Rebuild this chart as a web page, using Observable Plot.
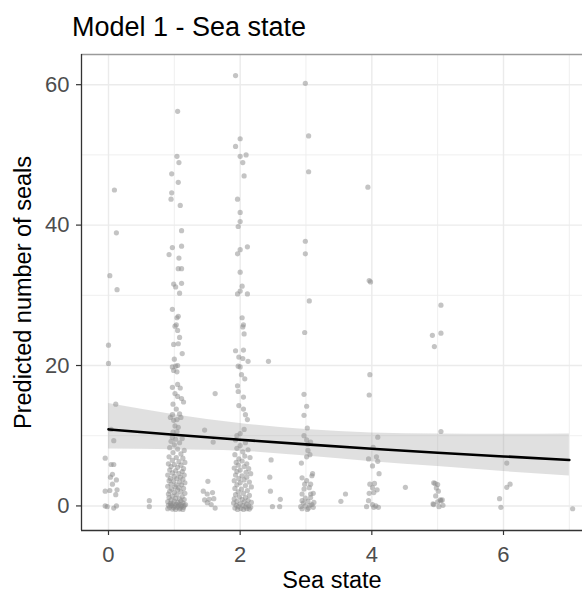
<!DOCTYPE html>
<html><head><meta charset="utf-8">
<script src="https://cdn.jsdelivr.net/npm/d3@7"></script>
<script src="https://cdn.jsdelivr.net/npm/@observablehq/plot@0.6"></script>
<style>
body{margin:0;background:#fff;font-family:"Liberation Sans",Arial,sans-serif;}
#wrap{position:relative;width:582px;height:592px;overflow:hidden;}
#chart{position:absolute;left:0;top:0;}
#title{position:absolute;left:72px;top:14px;font-size:27px;line-height:27px;color:#000;white-space:nowrap;}
</style></head><body>
<div id="wrap"><div id="chart"></div><div id="title">Model 1 - Sea state</div></div>
<script>
// Observations (sea state, jittered; predicted number of seals)
const pts0 = [[0.09,45.0],[0.12,38.9],[0.02,32.8],[0.13,30.8],[0.0,22.9],[0.0,20.3],[0.11,14.5],[0.04,10.9],[0.08,9.3],[-0.05,6.8],[0.04,5.9],[0.08,5.9],[0.03,4.1],[0.06,4.5],[0.12,3.7],[0.06,3.1],[0.13,2.3],[-0.05,2.1],[0.02,2.2],[0.11,1.6],[-0.05,0.0],[-0.02,-0.1],[0.08,-0.3],[0.12,0.0]];
const ptsOther = [[0.62,0.75],[0.62,-0.1],[1.62,16.0],[1.46,10.8],[1.59,9.1],[1.51,3.5],[1.44,2.1],[1.5,1.7],[1.58,1.9],[1.46,0.85],[1.53,0.94],[1.6,1.04],[1.5,0.47],[1.56,0.19],[1.62,-0.3],[2.43,20.6],[2.47,6.55],[2.45,4.1],[2.46,2.1],[2.49,-0.1],[2.6,-0.1],[2.61,0.94],[3.53,0.65],[3.6,1.7],[4.51,2.65],[5.94,1.04],[5.96,-0.2],[6.05,6.1],[6.05,2.65],[6.1,3.1],[7.05,-0.4]];
const pts1 = [[1.05,56.2],[1.04,49.8],[1.07,48.9],[0.96,47.3],[1.06,46.1],[0.96,44.6],[0.95,43.7],[1.09,42.8],[1.11,39.2],[0.97,36.8],[1.11,37.0],[0.92,35.8],[1.07,35.3],[1.06,33.8],[1.11,33.8],[0.99,31.6],[1.02,31.2],[1.11,31.7],[1.08,30.3],[0.97,28.0],[1.04,26.8],[1.06,27.0],[1.01,25.6],[1.03,25.8],[1.05,25.0],[1.08,24.0],[0.99,23.0],[1.06,23.1],[1.12,21.7],[1.00,20.9],[0.97,19.8],[1.02,19.9],[1.05,20.0],[0.99,19.3],[1.04,19.1],[0.97,16.9],[1.05,17.3],[1.09,16.8],[1.01,16.0],[1.05,15.6],[1.11,15.3],[0.98,14.5],[1.14,14.8],[1.03,13.8],[0.97,13.0],[1.08,13.1],[0.94,12.6],[0.99,12.2],[1.04,12.3],[1.10,12.6],[1.01,11.4],[1.06,11.2],[0.98,10.5],[1.04,10.6],[0.97,9.8],[1.02,9.5],
[0.95,9.2],[1.08,9.0],[1.12,9.6],[1.0,8.7],[0.93,8.3],[1.05,8.1],[1.15,7.9],[0.98,7.6],[1.1,7.4],[0.92,7.0],[1.03,6.9],[1.13,6.8],[0.97,6.5],[1.07,6.3],[1.16,6.2],[0.91,6.0],[1.0,5.9],[1.1,5.8],[0.95,5.6],[1.05,5.5],[1.14,5.3],[0.93,5.1],[1.02,5.0],[1.12,4.9],[0.97,4.7],[1.07,4.6],[0.9,4.4],[1.15,4.4],[1.0,4.2],[1.09,4.1],[0.94,3.9],[1.04,3.9],[1.13,3.8],[0.92,3.6],[0.99,3.5],[1.08,3.4],[1.16,3.3],[0.95,3.1],[1.03,3.0],[1.11,3.0],[0.9,2.8],[1.01,2.7],[1.07,2.6],[1.14,2.5],[0.96,2.4],[1.05,2.3],[0.93,2.1],[1.1,2.0],[1.0,1.9],[1.16,1.8],[0.91,1.7],[1.04,1.6],[0.97,1.4],[1.12,1.3],[0.92,1.2],[1.02,1.1],[1.08,1.0],[1.15,0.9],[0.95,0.85],[1.0,0.7],[1.1,0.7],[0.9,0.6],[1.05,0.5],[1.13,0.45],[0.94,0.35],[0.98,0.3],[1.07,0.25],[1.17,0.2],[0.91,0.1],[0.96,0.05],[1.01,0.0],[1.06,0.0],[1.11,-0.05],[1.15,0.05],[0.93,-0.2],[0.99,-0.25],[1.04,-0.2],[1.09,-0.3],[1.14,-0.2],[0.9,-0.4],[0.97,-0.45],[1.02,-0.5],[1.08,-0.45],[1.13,-0.5],[0.95,0.15],[1.03,0.2],[1.1,0.15]];
const pts2 = [[1.93,61.3],[2.0,52.3],[1.93,51.2],[2.0,49.8],[2.09,50.0],[2.04,48.9],[2.06,47.0],[1.96,43.7],[2.0,41.8],[2.0,40.5],[1.97,39.8],[2.0,36.5],[2.11,36.9],[1.96,35.9],[2.0,33.3],[2.03,31.3],[1.96,30.2],[2.0,30.6],[2.11,30.2],[2.03,26.8],[2.05,25.8],[2.04,25.5],[2.06,24.5],[1.93,22.1],[2.05,22.2],[1.98,21.2],[2.04,21.0],[2.12,20.6],[1.97,19.9],[2.0,19.8],[2.02,18.7],[2.07,18.1],[1.96,17.1],[1.97,16.3],[2.05,15.5],[1.98,14.3],[2.05,13.8],[2.08,13.0],[2.11,12.3],[2.06,10.9],[2.0,10.3],[1.95,10.0],
[1.93,9.4],[2.08,9.0],[2.0,8.6],[1.95,8.2],[2.12,8.0],[2.04,7.7],[1.92,7.3],[2.07,7.1],[2.15,6.9],[1.98,6.7],[2.03,6.4],[1.94,6.2],[2.1,6.0],[1.97,5.8],[2.06,5.6],[1.91,5.4],[2.13,5.3],[2.0,5.1],[1.95,4.9],[2.09,4.8],[2.16,4.6],[1.93,4.4],[2.03,4.3],[2.1,4.1],[1.98,3.9],[2.06,3.7],[1.91,3.6],[2.14,3.4],[2.0,3.3],[1.95,3.0],[2.08,2.9],[2.17,2.7],[1.92,2.5],[2.02,2.4],[2.11,2.2],[1.97,2.0],[2.05,1.8],[1.93,1.6],[2.14,1.5],[1.99,1.3],[2.08,1.2],[1.91,1.0],[2.03,0.9],[2.12,0.8],[1.95,0.65],[2.06,0.55],[2.17,0.5],[1.9,0.4],[2.0,0.3],[2.1,0.25],[1.94,0.1],[2.04,0.05],[2.13,0.0],[1.97,-0.1],[2.08,-0.15],[2.16,-0.2],[1.92,-0.3],[2.01,-0.35],[2.1,-0.4],[1.96,-0.5],[2.05,-0.5],[2.14,-0.45]];
const pts3 = [[2.99,60.2],[3.04,52.7],[3.04,47.6],[2.99,37.7],[2.99,35.9],[3.05,29.2],[2.98,24.7],[2.97,15.9],[3.01,14.2],[2.97,12.9],[3.02,11.1],[2.97,10.0],[3.01,9.4],[3.07,9.1],[3.03,8.8],[3.03,7.9],[3.06,7.3],[3.01,7.0],[2.93,6.1],[2.94,4.0],[3.01,3.6],[3.09,4.3],[3.07,3.1],[2.98,3.1],[3.1,4.6],[2.97,2.4],[3.05,2.6],[3.11,1.8],[2.94,1.7],[3.07,1.7],[2.99,1.1],[3.07,1.2],[2.94,0.75],[3.03,0.65],[2.92,-0.1],[2.99,0.0],[3.06,0.1],[3.11,-0.2],[2.94,-0.4],[3.02,-0.5],[3.09,0.2],[2.96,0.4],[3.04,-0.3],[3.12,0.5]];
const pts4 = [[3.94,45.4],[3.96,32.1],[3.98,31.9],[3.97,18.7],[3.96,15.8],[4.09,9.8],[4.02,8.35],[3.95,6.7],[4.07,7.0],[4.09,6.35],[4.01,5.7],[4.11,4.6],[3.97,3.1],[4.04,3.2],[4.01,2.6],[4.08,2.3],[3.96,1.8],[4.03,1.9],[3.95,0.75],[4.01,0.19],[4.06,0.0],[3.92,-0.1],[4.03,-0.2],[4.1,-0.2]];
const pts5 = [[5.05,28.6],[4.92,24.3],[5.05,24.6],[4.95,22.7],[5.05,10.6],[4.96,3.2],[4.93,0.28],[4.94,3.3],[5.0,3.05],[4.98,2.57],[5.01,2.1],[4.97,1.42],[5.04,0.85],[5.07,0.85],[5.0,0.57],[4.94,0.19],[5.02,-0.1],[5.08,0.09],[5.05,0.75]];

// Fitted model with confidence band
const fitX  = [0, 1, 2, 3, 4, 5, 6, 7];
const fitY  = [10.9, 10.14, 9.43, 8.77, 8.15, 7.58, 7.05, 6.55];
const fitLo = [8.1, 8.0, 7.8, 7.1, 6.3, 5.6, 4.9, 4.27];
const fitHi = [14.6, 13.0, 11.75, 10.9, 10.4, 10.25, 10.2, 10.25];

// Axes
const xMajor = [0, 2, 4, 6];
const xMinor = [1, 3, 5, 7];
const yMajor = [0, 20, 40, 60];
const yMinor = [10, 30, 50];
const xDomain = [-0.41, 7.2];
const yDomain = [-3.5, 64.3];
const xTitle = "Sea state";
const yTitle = "Predicted number of seals";

const points = [...pts0, ...ptsOther, ...pts1, ...pts2, ...pts3, ...pts4, ...pts5].map(([x, y]) => ({x, y}));
const fit = fitX.map((x, i) => ({x, y: fitY[i], lo: fitLo[i], hi: fitHi[i]}));

const font = '"Liberation Sans", Arial, sans-serif';
const chart = Plot.plot({
  width: 582, height: 592,
  marginLeft: 81, marginRight: 0, marginTop: 54, marginBottom: 62,
  x: {domain: xDomain, axis: null},
  y: {domain: yDomain, axis: null},
  style: {fontFamily: font, background: "white", overflow: "visible"},
  marks: [
    Plot.gridX(xMinor, {stroke: "#ededed", strokeOpacity: 1, strokeWidth: 0.9}),
    Plot.gridY(yMinor, {stroke: "#ededed", strokeOpacity: 1, strokeWidth: 0.9}),
    Plot.gridX(xMajor, {stroke: "#ebebeb", strokeOpacity: 1, strokeWidth: 1.4}),
    Plot.gridY(yMajor, {stroke: "#ebebeb", strokeOpacity: 1, strokeWidth: 1.4}),
    Plot.dot(points, {x: "x", y: "y", r: 2.6, fill: "#8a8a8a", fillOpacity: 0.5, stroke: "none"}),
    Plot.areaY(fit, {x: "x", y1: "lo", y2: "hi", fill: "#999999", fillOpacity: 0.3, curve: "monotone-x"}),
    Plot.line(fit, {x: "x", y: "y", stroke: "black", strokeWidth: 2.6, curve: "monotone-x"}),
    Plot.ruleY([yDomain[1]], {stroke: "#9a9a9a", strokeWidth: 1.3}),
    Plot.ruleX([xDomain[0]], {stroke: "#333333", strokeWidth: 1.3}),
    Plot.ruleY([yDomain[0]], {stroke: "#333333", strokeWidth: 1.3}),
    Plot.axisX(xMajor, {tickSize: 5, tickPadding: 11, fontSize: 22, fill: "#4d4d4d", stroke: "#333333", strokeWidth: 1.2, label: null}),
    Plot.axisY(yMajor, {tickSize: 5, tickPadding: 7, fontSize: 22, fill: "#4d4d4d", stroke: "#333333", strokeWidth: 1.2, label: null}),
    Plot.text([xTitle], {text: d => d, frameAnchor: "bottom", dy: 50, fontSize: 23.5, fill: "black", lineAnchor: "middle", textAnchor: "middle"}),
    Plot.text([yTitle], {text: d => d, frameAnchor: "left", dx: -58, rotate: -90, fontSize: 23.5, fill: "black", lineAnchor: "middle", textAnchor: "middle"})
  ]
});
document.getElementById("chart").appendChild(chart);
</script>
</body></html>
